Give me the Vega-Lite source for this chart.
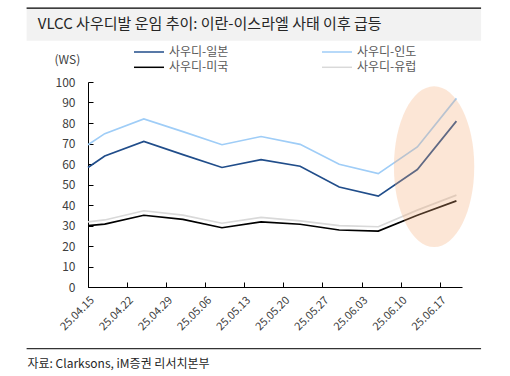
{
  "$schema": "https://vega.github.io/schema/vega-lite/v6.json",
  "autosize": "none",
  "width": 374,
  "height": 205,
  "padding": {"left": 88, "top": 82, "right": 48, "bottom": 89},
  "background": "white",
  "config": {
    "font": "Noto Sans CJK KR",
    "view": {"stroke": null},
    "axis": {"grid": false, "domainColor": "#000000", "tickColor": "#000000", "labelColor": "#404040", "labelFont": "Noto Sans CJK KR", "labelFontSize": 12, "titleFont": "Noto Sans CJK KR", "titleFontWeight": "normal", "labelOverlap": false}
  },
  "datasets": {
    "freight": [
      {"date": "2025-04-15", "route": "사우디-일본", "ws": 58.3},
      {"date": "2025-04-18", "route": "사우디-일본", "ws": 63.9},
      {"date": "2025-04-25", "route": "사우디-일본", "ws": 71.0},
      {"date": "2025-05-02", "route": "사우디-일본", "ws": 64.6},
      {"date": "2025-05-09", "route": "사우디-일본", "ws": 58.3},
      {"date": "2025-05-16", "route": "사우디-일본", "ws": 62.1},
      {"date": "2025-05-23", "route": "사우디-일본", "ws": 58.9},
      {"date": "2025-05-30", "route": "사우디-일본", "ws": 48.8},
      {"date": "2025-06-06", "route": "사우디-일본", "ws": 44.3},
      {"date": "2025-06-13", "route": "사우디-일본", "ws": 57.3},
      {"date": "2025-06-20", "route": "사우디-일본", "ws": 80.9},
      {"date": "2025-04-15", "route": "사우디-인도", "ws": 69.4},
      {"date": "2025-04-18", "route": "사우디-인도", "ws": 74.8},
      {"date": "2025-04-25", "route": "사우디-인도", "ws": 82.0},
      {"date": "2025-05-02", "route": "사우디-인도", "ws": 75.8},
      {"date": "2025-05-09", "route": "사우디-인도", "ws": 69.4},
      {"date": "2025-05-16", "route": "사우디-인도", "ws": 73.4},
      {"date": "2025-05-23", "route": "사우디-인도", "ws": 69.6},
      {"date": "2025-05-30", "route": "사우디-인도", "ws": 59.9},
      {"date": "2025-06-06", "route": "사우디-인도", "ws": 55.3},
      {"date": "2025-06-13", "route": "사우디-인도", "ws": 68.3},
      {"date": "2025-06-20", "route": "사우디-인도", "ws": 92.0},
      {"date": "2025-04-15", "route": "사우디-미국", "ws": 29.9},
      {"date": "2025-04-18", "route": "사우디-미국", "ws": 30.7},
      {"date": "2025-04-25", "route": "사우디-미국", "ws": 35.0},
      {"date": "2025-05-02", "route": "사우디-미국", "ws": 33.0},
      {"date": "2025-05-09", "route": "사우디-미국", "ws": 28.9},
      {"date": "2025-05-16", "route": "사우디-미국", "ws": 31.8},
      {"date": "2025-05-23", "route": "사우디-미국", "ws": 30.6},
      {"date": "2025-05-30", "route": "사우디-미국", "ws": 27.8},
      {"date": "2025-06-06", "route": "사우디-미국", "ws": 27.3},
      {"date": "2025-06-13", "route": "사우디-미국", "ws": 35.0},
      {"date": "2025-06-20", "route": "사우디-미국", "ws": 42.0},
      {"date": "2025-04-15", "route": "사우디-유럽", "ws": 31.8},
      {"date": "2025-04-18", "route": "사우디-유럽", "ws": 32.7},
      {"date": "2025-04-25", "route": "사우디-유럽", "ws": 37.2},
      {"date": "2025-05-02", "route": "사우디-유럽", "ws": 35.1},
      {"date": "2025-05-09", "route": "사우디-유럽", "ws": 31.1},
      {"date": "2025-05-16", "route": "사우디-유럽", "ws": 34.0},
      {"date": "2025-05-23", "route": "사우디-유럽", "ws": 32.3},
      {"date": "2025-05-30", "route": "사우디-유럽", "ws": 29.9},
      {"date": "2025-06-06", "route": "사우디-유럽", "ws": 29.4},
      {"date": "2025-06-13", "route": "사우디-유럽", "ws": 37.5},
      {"date": "2025-06-20", "route": "사우디-유럽", "ws": 44.8}
    ]
  },
  "layer": [
    {
      "data": {"name": "freight"},
      "mark": {"type": "line", "strokeWidth": 1.7},
      "encoding": {
        "x": {
          "field": "date",
          "type": "temporal",
          "scale": {"type": "utc", "domain": [{"year": 2025, "month": 4, "date": 15, "utc": true}, {"year": 2025, "month": 6, "date": 21, "utc": true}]},
          "axis": {
            "values": [
              {"year": 2025, "month": 4, "date": 15, "utc": true},
              {"year": 2025, "month": 4, "date": 22, "utc": true},
              {"year": 2025, "month": 4, "date": 29, "utc": true},
              {"year": 2025, "month": 5, "date": 6, "utc": true},
              {"year": 2025, "month": 5, "date": 13, "utc": true},
              {"year": 2025, "month": 5, "date": 20, "utc": true},
              {"year": 2025, "month": 5, "date": 27, "utc": true},
              {"year": 2025, "month": 6, "date": 3, "utc": true},
              {"year": 2025, "month": 6, "date": 10, "utc": true},
              {"year": 2025, "month": 6, "date": 17, "utc": true}
            ],
            "labelExpr": "utcFormat(datum.value, '%y.%m.%d')",
            "labelAngle": -45,
            "labelFontSize": 11,
            "ticks": true,
            "tickSize": -5,
            "tickWidth": 1,
            "labelPadding": 12,
            "title": "자료: Clarksons, iM증권 리서치본부",
            "titleFontSize": 12,
            "titleColor": "#262626",
            "titleAlign": "left",
            "titleAnchor": "start",
            "titleBaseline": "alphabetic",
            "titleX": -61,
            "titleY": 80
          }
        },
        "y": {
          "field": "ws",
          "type": "quantitative",
          "scale": {"domain": [0, 100], "nice": false},
          "axis": {
            "values": [0, 10, 20, 30, 40, 50, 60, 70, 80, 90, 100],
            "labelOverlap": false,
            "ticks": true,
            "tickSize": -5,
            "tickWidth": 1,
            "labelPadding": 18,
            "title": "(WS)",
            "titleAngle": 0,
            "titleFontSize": 12,
            "titleColor": "#404040",
            "titleAlign": "left",
            "titleBaseline": "middle",
            "titleX": -34,
            "titleY": -23
          }
        },
        "color": {
          "field": "route",
          "type": "nominal",
          "scale": {
            "domain": ["사우디-일본", "사우디-인도", "사우디-미국", "사우디-유럽"],
            "range": ["#204d8a", "#9fcdf7", "#000000", "#d9d9d9"]
          },
          "legend": {
            "title": null,
            "orient": "none",
            "legendX": 54,
            "legendY": -37,
            "columns": 2,
            "direction": "horizontal",
            "symbolType": "M -2.5,0 L 2.5,0",
            "symbolSize": 144,
            "symbolStrokeWidth": 1.5,
            "labelFontSize": 12,
            "labelColor": "#595959",
            "labelOffset": 13,
            "columnPadding": 90,
            "rowPadding": 2.3
          }
        },
        "detail": {"field": "route"}
      }
    },
    {
      "data": {"values": [{}]},
      "mark": {"type": "rect", "fill": "#f2f2f2", "clip": false},
      "encoding": {
        "x": {"datum": {"year": 2025, "month": 4, "date": 4, "utc": true}, "type": "temporal"},
        "x2": {"datum": {"year": 2025, "month": 6, "date": 24, "hours": 10, "utc": true}},
        "y": {"datum": 136.2, "type": "quantitative", "axis": {"values": [0, 10, 20, 30, 40, 50, 60, 70, 80, 90, 100]}},
        "y2": {"datum": 120.1}
      }
    },
    {
      "data": {"values": [{}]},
      "mark": {"type": "rule", "color": "#000000", "strokeWidth": 1.3, "clip": false},
      "encoding": {
        "x": {"datum": {"year": 2025, "month": 4, "date": 4, "utc": true}, "type": "temporal"},
        "x2": {"datum": {"year": 2025, "month": 6, "date": 24, "hours": 10, "utc": true}},
        "y": {"datum": 136.0, "type": "quantitative", "axis": {"values": [0, 10, 20, 30, 40, 50, 60, 70, 80, 90, 100]}}
      }
    },
    {
      "data": {"values": [{}]},
      "mark": {"type": "rule", "color": "#000000", "strokeWidth": 1, "clip": false},
      "encoding": {
        "x": {"datum": {"year": 2025, "month": 4, "date": 4, "utc": true}, "type": "temporal"},
        "x2": {"datum": {"year": 2025, "month": 6, "date": 24, "hours": 10, "utc": true}},
        "y": {"datum": -30.1, "type": "quantitative", "axis": {"values": [0, 10, 20, 30, 40, 50, 60, 70, 80, 90, 100]}}
      }
    },
    {
      "data": {"values": [{"title": "VLCC 사우디발 운임 추이: 이란-이스라엘 사태 이후 급등"}]},
      "mark": {"type": "text", "align": "left", "baseline": "alphabetic", "fontSize": 15, "color": "#262626", "font": "Noto Sans CJK KR", "clip": false},
      "encoding": {
        "x": {"datum": {"year": 2025, "month": 4, "date": 6, "utc": true}, "type": "temporal"},
        "y": {"datum": 126.0, "type": "quantitative", "axis": {"values": [0, 10, 20, 30, 40, 50, 60, 70, 80, 90, 100]}},
        "text": {"field": "title"}
      }
    },
    {
      "data": {"values": [{}]},
      "mark": {
        "type": "point",
        "filled": true,
        "fill": "#f6ac76",
        "opacity": 0.3,
        "strokeWidth": 0,
        "size": 25800,
        "clip": false,
        "shape": "M 0,-1 C 0.2761,-1 0.5,-0.5523 0.5,0 C 0.5,0.5523 0.2761,1 0,1 C -0.2761,1 -0.5,0.5523 -0.5,0 C -0.5,-0.5523 -0.2761,-1 0,-1 Z"
      },
      "encoding": {
        "x": {"datum": {"year": 2025, "month": 6, "date": 16, "utc": true}, "type": "temporal"},
        "y": {"datum": 58.7, "type": "quantitative", "axis": {"values": [0, 10, 20, 30, 40, 50, 60, 70, 80, 90, 100]}}
      }
    }
  ]
}
